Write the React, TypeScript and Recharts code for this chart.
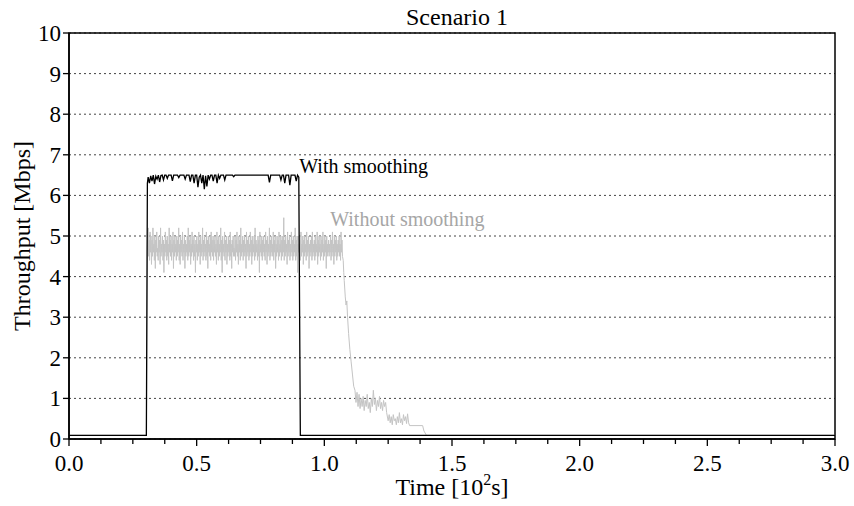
import React from "react";
import {
  LineChart,
  Line,
  XAxis,
  YAxis,
  CartesianGrid,
  ReferenceDot,
  Customized,
} from "recharts";

// ---------- data ----------
const xTicks = [0, 0.125, 0.25, 0.375, 0.5, 0.625, 0.75, 0.875, 1, 1.125, 1.25, 1.375, 1.5, 1.625, 1.75, 1.875, 2, 2.125, 2.25, 2.375, 2.5, 2.625, 2.75, 2.875, 3];
const yTicks = [0, 1, 2, 3, 4, 5, 6, 7, 8, 9, 10];

// With smoothing: plateau samples (every 0.005 from 0.31)
const smoothStart = 0.31;
const smoothStep = 0.005;
const smoothPlateau = [
  6.45, 6.3, 6.48, 6.35, 6.5, 6.28, 6.47, 6.4, 6.5, 6.33, 6.49, 6.5, 6.38, 6.5, 6.5, 6.42, 6.5, 6.5, 6.5, 6.36,
  6.5, 6.5, 6.5, 6.5, 6.44, 6.5, 6.5, 6.5, 6.5, 6.4, 6.5, 6.5, 6.5, 6.34, 6.5, 6.5, 6.3, 6.5, 6.5, 6.2,
  6.45, 6.5, 6.3, 6.5, 6.15, 6.48, 6.22, 6.5, 6.4, 6.5, 6.5, 6.35, 6.5, 6.5, 6.3, 6.5, 6.42, 6.5, 6.5, 6.5,
  6.38, 6.5, 6.5, 6.5, 6.5, 6.5, 6.5, 6.46, 6.5, 6.5, 6.5, 6.5, 6.5, 6.5, 6.5, 6.5, 6.5, 6.5, 6.5, 6.5,
  6.5, 6.5, 6.5, 6.5, 6.5, 6.5, 6.5, 6.5, 6.5, 6.5, 6.5, 6.5, 6.5, 6.5, 6.5, 6.32, 6.5, 6.5, 6.5, 6.5,
  6.5, 6.5, 6.5, 6.5, 6.38, 6.5, 6.5, 6.3, 6.5, 6.5, 6.5, 6.25, 6.5, 6.5, 6.5, 6.5, 6.35, 6.5,
];
const smoothEdges = [
  { t: 0, v: 0.09 },
  { t: 0.303, v: 0.09 },
  { t: 0.307, v: 6.3 },
];
const smoothTail = [
  { t: 0.9, v: 6.45 },
  { t: 0.906, v: 0.09 },
  { t: 3, v: 0.09 },
];

// Without smoothing: noisy plateau (sampled every 0.00187 from 0.31)
const rawStart = 0.31;
const rawStep = 0.00187;
const rawPlateau = [
  5.2, 4.5, 4.9, 4.4, 5.1, 4.6, 5.0, 4.3, 4.9, 4.5, 5.2, 4.6, 4.8, 4.4, 5.0, 4.2, 4.9, 4.6, 5.1, 4.5,
  4.7, 4.4, 5.0, 4.6, 4.9, 4.3, 5.2, 4.5, 4.8, 4.6, 5.0, 4.4, 4.9, 4.1, 4.8, 4.5, 5.1, 4.6, 4.9, 4.4,
  5.0, 4.5, 4.8, 4.3, 5.2, 4.6, 4.9, 4.5, 5.0, 4.4, 4.8, 4.6, 5.1, 4.2, 4.9, 4.5, 5.0, 4.6, 4.8, 4.4,
  5.0, 4.5, 4.9, 4.6, 5.2, 4.4, 4.8, 4.3, 5.0, 4.6, 4.9, 4.5, 5.1, 4.4, 4.8, 4.6, 5.0, 4.2, 4.9, 4.5,
  4.8, 4.6, 5.0, 4.4, 5.2, 4.5, 4.9, 4.6, 5.0, 4.3, 4.8, 4.5, 5.1, 4.6, 4.9, 4.4, 5.0, 4.5, 4.8, 4.1,
  4.9, 4.6, 5.0, 4.4, 4.8, 4.5, 5.1, 4.6, 4.9, 4.3, 5.0, 4.5, 4.8, 4.6, 5.2, 4.4, 4.9, 4.5, 5.0, 4.6,
  4.8, 4.4, 5.1, 4.5, 4.9, 4.2, 5.0, 4.6, 4.8, 4.5, 5.0, 4.4, 5.1, 4.6, 4.9, 4.5, 5.0, 4.4, 4.9, 4.6,
  5.0, 4.5, 4.8, 4.3, 5.1, 4.6, 4.9, 4.4, 5.0, 4.5, 4.8, 4.6, 5.2, 4.4, 4.9, 4.1, 5.0, 4.6, 4.8, 4.5,
  5.1, 4.4, 4.9, 4.6, 5.0, 4.3, 4.8, 4.5, 5.0, 4.6, 4.9, 4.4, 5.1, 4.5, 4.8, 4.2, 4.9, 4.6, 5.0, 4.5,
  4.7, 4.5, 5.0, 4.4, 4.9, 4.6, 5.1, 4.5, 4.8, 4.3, 5.0, 4.6, 4.9, 4.4, 5.2, 4.5, 4.8, 4.6, 5.0, 4.4,
  4.9, 4.5, 5.0, 4.6, 4.8, 4.2, 5.1, 4.5, 4.9, 4.6, 5.0, 4.4, 4.8, 4.5, 5.1, 4.6, 4.9, 4.3, 5.0, 4.5,
  4.8, 4.6, 5.0, 4.4, 5.2, 4.5, 4.9, 4.6, 4.8, 4.4, 5.0, 4.5, 4.9, 4.1, 5.1, 4.6, 4.8, 4.5, 5.0, 4.4,
  4.9, 4.6, 5.0, 4.5, 4.8, 4.4, 5.1, 4.6, 4.9, 4.3, 5.0, 4.5, 4.8, 4.6, 5.2, 4.4, 4.9, 4.5, 5.0, 4.6,
  4.8, 4.5, 5.1, 4.4, 4.9, 4.6, 5.0, 4.2, 4.8, 4.5, 5.0, 4.6, 4.9, 4.4, 5.1, 4.5, 4.8, 4.6, 5.0, 4.4,
  4.9, 4.5, 5.0, 4.6, 5.45, 4.4, 4.9, 4.5, 5.0, 4.6, 4.8, 4.3, 5.1, 4.5, 4.9, 4.6, 5.0, 4.4, 4.8, 4.5,
  5.1, 4.6, 4.9, 4.4, 5.0, 4.5, 4.8, 4.6, 5.2, 4.4, 4.9, 4.5, 5.0, 4.1, 4.8, 4.6, 5.0, 4.5, 4.9, 4.4,
  5.1, 4.5, 4.8, 4.6, 5.0, 4.3, 4.9, 4.5, 5.0, 4.6, 4.8, 4.4, 5.1, 4.5, 4.9, 4.6, 5.0, 4.2, 4.8, 4.5,
  4.9, 4.6, 5.0, 4.4, 5.1, 4.5, 4.8, 4.6, 4.9, 4.4, 5.0, 4.5, 4.8, 4.6, 5.1, 4.3, 4.9, 4.5, 5.0, 4.6,
  4.8, 4.4, 5.0, 4.5, 4.9, 4.6, 5.1, 4.4, 4.8, 4.5, 5.0, 4.6, 4.9, 4.2, 5.0, 4.5, 4.8, 4.6, 4.9, 4.5,
  4.8, 4.6, 5.0, 4.4, 4.9, 4.5, 5.1, 4.6, 4.8, 4.3, 5.0, 4.5, 4.9, 4.6, 5.0, 4.4, 4.8, 4.5, 4.9, 4.6,
  5.0, 4.5, 4.8, 4.4, 5.1, 4.6, 4.9, 4.5,
];
const rawHead = [
  { t: 0, v: 0.09 },
  { t: 0.303, v: 0.09 },
  { t: 0.307, v: 4.8 },
];
// decay after ~1.07 (explicit samples)
const rawDecay = [
  { t: 1.074, v: 4.4 }, { t: 1.076, v: 4.1 }, { t: 1.078, v: 3.9 }, { t: 1.082, v: 3.5 },
  { t: 1.085, v: 3.3 }, { t: 1.088, v: 3.4 }, { t: 1.091, v: 3.0 }, { t: 1.095, v: 2.6 },
  { t: 1.1, v: 2.2 }, { t: 1.105, v: 1.9 }, { t: 1.11, v: 1.6 }, { t: 1.115, v: 1.3 },
  { t: 1.12, v: 1.2 }, { t: 1.124, v: 0.9 }, { t: 1.128, v: 1.15 }, { t: 1.132, v: 0.8 },
  { t: 1.136, v: 1.1 }, { t: 1.14, v: 0.75 }, { t: 1.144, v: 1.0 }, { t: 1.148, v: 0.8 },
  { t: 1.152, v: 1.05 }, { t: 1.156, v: 0.7 }, { t: 1.16, v: 0.95 }, { t: 1.164, v: 0.8 },
  { t: 1.168, v: 1.1 }, { t: 1.172, v: 0.75 }, { t: 1.176, v: 0.9 }, { t: 1.18, v: 0.65 },
  { t: 1.184, v: 1.0 }, { t: 1.188, v: 0.8 }, { t: 1.192, v: 1.2 }, { t: 1.196, v: 0.85 },
  { t: 1.2, v: 1.0 }, { t: 1.204, v: 0.7 }, { t: 1.208, v: 0.95 }, { t: 1.212, v: 0.8 },
  { t: 1.216, v: 1.05 }, { t: 1.22, v: 0.75 }, { t: 1.224, v: 0.9 }, { t: 1.228, v: 0.7 },
  { t: 1.232, v: 0.95 }, { t: 1.236, v: 0.8 }, { t: 1.24, v: 0.9 }, { t: 1.244, v: 0.65 },
  { t: 1.25, v: 0.45 }, { t: 1.254, v: 0.6 }, { t: 1.258, v: 0.4 }, { t: 1.262, v: 0.55 },
  { t: 1.266, v: 0.35 }, { t: 1.27, v: 0.6 }, { t: 1.274, v: 0.45 }, { t: 1.278, v: 0.5 },
  { t: 1.282, v: 0.35 }, { t: 1.286, v: 0.55 }, { t: 1.29, v: 0.4 }, { t: 1.294, v: 0.65 },
  { t: 1.298, v: 0.4 }, { t: 1.302, v: 0.5 }, { t: 1.306, v: 0.35 }, { t: 1.31, v: 0.6 },
  { t: 1.314, v: 0.45 }, { t: 1.318, v: 0.55 }, { t: 1.322, v: 0.38 }, { t: 1.326, v: 0.62 },
  { t: 1.33, v: 0.4 }, { t: 1.334, v: 0.33 }, { t: 1.385, v: 0.33 }, { t: 1.39, v: 0.2 },
  { t: 1.4, v: 0.09 }, { t: 3, v: 0.09 },
];

const smoothData = [
  ...smoothEdges,
  ...smoothPlateau.map((v, i) => ({ t: smoothStart + i * smoothStep, v })),
  ...smoothTail,
];
const rawData = [
  ...rawHead,
  ...rawPlateau.map((v, i) => ({ t: rawStart + i * rawStep, v })),
  ...rawDecay,
];

// ---------- styling ----------
const FONT = '"Liberation Serif", "Times New Roman", serif';
const W = 854;
const H = 506;
const M = { top: 33, right: 19, left: 0, bottom: 0 };
const YW = 69;
const XH = 67;

const XTick = (props: any) => {
  const { x, y, payload } = props;
  const v = payload.value as number;
  const major = Math.abs(v * 2 - Math.round(v * 2)) < 1e-6;
  return (
    <g>
      <line x1={x} x2={x} y1={y} y2={y + (major ? 7 : 5)} stroke="#000" strokeWidth={1.3} />
      {major && (
        <text x={x} y={y + 32} textAnchor="middle" fontSize={23} style={{ fontFamily: FONT }} fill="#000">
          {v.toFixed(1)}
        </text>
      )}
    </g>
  );
};

const YTick = (props: any) => {
  const { x, y, payload } = props;
  return (
    <text x={x} y={y} dy={8} textAnchor="end" fontSize={23} style={{ fontFamily: FONT }} fill="#000">
      {payload.value}
    </text>
  );
};

const Labels = () => {
  const plotL = YW;
  const plotR = W - M.right;
  const plotT = M.top;
  const plotB = H - XH;
  const cx = (plotL + plotR) / 2;
  const cy = (plotT + plotB) / 2;
  return (
    <g fill="#000">
      <text x={457} y={25} textAnchor="middle" fontSize={24} style={{ fontFamily: FONT }}>
        Scenario 1
      </text>
      <text x={cx} y={495} textAnchor="middle" fontSize={24} style={{ fontFamily: FONT }}>
        Time [10
        <tspan dy={-10} fontSize={16}>2</tspan>
        <tspan dy={10}>s]</tspan>
      </text>
      <text
        x={0}
        y={0}
        transform={`translate(30, ${cy}) rotate(-90)`}
        textAnchor="middle"
        fontSize={24}
        style={{ fontFamily: FONT }}
      >
        Throughput [Mbps]
      </text>
      <rect x={plotL} y={plotT} width={plotR - plotL} height={plotB - plotT} fill="none" stroke="#000" strokeWidth={1.5} />
    </g>
  );
};

const annotation = (text: string, color: string) => (p: any) => (
  <text x={p.cx} y={p.cy} fontSize={20} style={{ fontFamily: FONT }} fill={color}>
    {text}
  </text>
);

export default function App() {
  return (
    <div style={{ position: "absolute", left: 0, top: 0, width: W, height: H, background: "#fff" }}>
      <LineChart width={W} height={H} margin={M}>
        <CartesianGrid vertical={false} stroke="#444" strokeDasharray="2 3" strokeWidth={1} />
        <XAxis
          type="number"
          dataKey="t"
          domain={[0, 3]}
          ticks={xTicks}
          interval={0}
          allowDataOverflow
          height={XH}
          tickSize={0}
          tickMargin={0}
          tickLine={false}
          axisLine={{ stroke: "#000", strokeWidth: 1.5 }}
          tick={<XTick />}
        />
        <YAxis
          type="number"
          domain={[0, 10]}
          ticks={yTicks}
          interval={0}
          width={YW}
          tickSize={6}
          tickMargin={2}
          tickLine={{ stroke: "#000", strokeWidth: 1.3 }}
          axisLine={{ stroke: "#000", strokeWidth: 1.5 }}
          tick={<YTick />}
        />
        <Line
          data={rawData}
          dataKey="v"
          type="linear"
          stroke="#c4c4c4"
          strokeWidth={1}
          dot={false}
          isAnimationActive={false}
        />
        <Line
          data={smoothData}
          dataKey="v"
          type="linear"
          stroke="#000"
          strokeWidth={1.3}
          dot={false}
          isAnimationActive={false}
        />
        <ReferenceDot x={0.902} y={6.55} r={0} shape={annotation("With smoothing", "#000")} />
        <ReferenceDot x={1.023} y={5.24} r={0} shape={annotation("Without smoothing", "#a6a6a6")} />
        <Customized component={Labels} />
      </LineChart>
    </div>
  );
}
